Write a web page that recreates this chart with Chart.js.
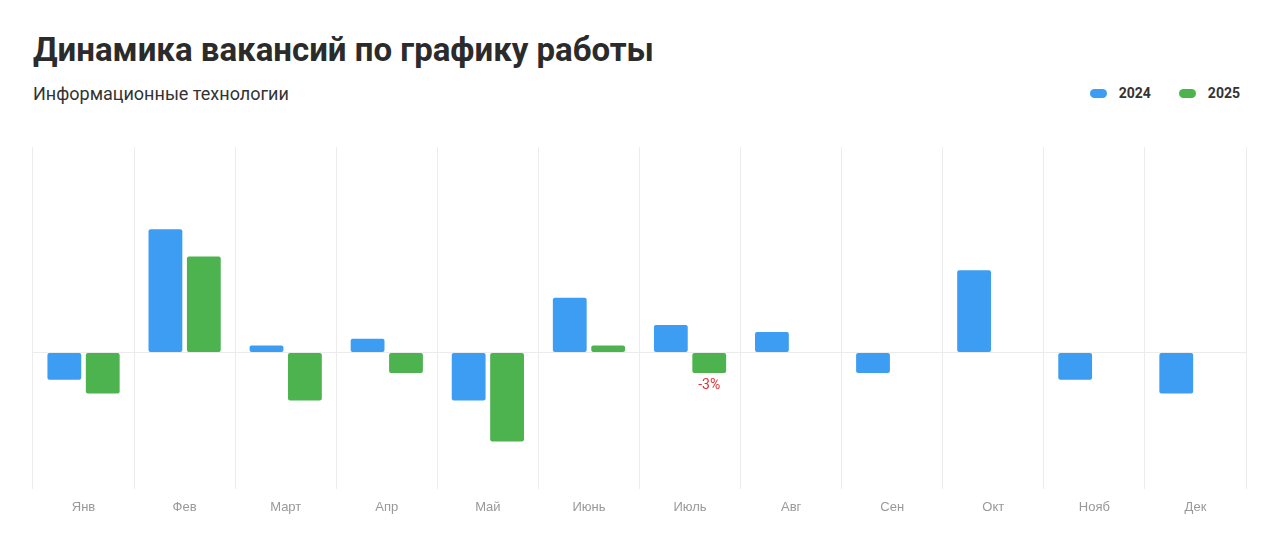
<!DOCTYPE html>
<html>
<head>
<meta charset="utf-8">
<script src="https://cdn.jsdelivr.net/npm/chart.js@4/dist/chart.umd.min.js"></script>
<style>
  body { margin: 0; background: #fff; font-family: Roboto, "Noto Sans", sans-serif; }
  .title { position: absolute; left: 33px; top: 30px; font-size: 33px; font-weight: 700; color: #2b2b2b; }
  .sub { position: absolute; left: 33px; top: 83px; font-size: 18px; color: #333; }
  .legend { position: absolute; right: 40px; top: 85px; display: flex; gap: 28px; font-size: 14px; font-weight: 700; color: #333; }
  .legend span { display: flex; align-items: center; }
  .legend i { display: inline-block; width: 17px; height: 9px; border-radius: 5px; margin-right: 12px; }
  .wrap { position: absolute; left: 23px; top: 140px; width: 1233px; height: 385px; }
</style>
</head>
<body>
<div class="title">Динамика вакансий по графику работы</div>
<div class="sub">Информационные технологии</div>
<div class="legend">
  <span><i style="background:#3d9df2"></i>2024</span>
  <span><i style="background:#4cb34e"></i>2025</span>
</div>
<div class="wrap"><canvas id="c"></canvas></div>
<script>
const months = ['Янв','Фев','Март','Апр','Май','Июнь','Июль','Авг','Сен','Окт','Нояб','Дек'];
const values2024 = [-4, 18, 1, 2, -7, 8, 4, 3, -3, 12, -4, -6];
const values2025 = [-6, 14, -7, -3, -13, 1, -3, null, null, null, null, null];
const labelled = { dataset: 1, index: 6, text: '-3%' };

const labelPlugin = {
  id: 'barLabel',
  afterDatasetsDraw(chart) {
    const bar = chart.getDatasetMeta(labelled.dataset).data[labelled.index];
    const ctx = chart.ctx;
    ctx.save();
    ctx.fillStyle = '#e03030';
    ctx.font = '14px Roboto, sans-serif';
    ctx.textAlign = 'center';
    ctx.textBaseline = 'top';
    ctx.fillText(labelled.text, bar.x, bar.y + 6);
    ctx.restore();
  }
};

new Chart(document.getElementById('c'), {
  type: 'bar',
  data: {
    labels: months,
    datasets: [
      { label: '2024', data: values2024, backgroundColor: '#3d9df2', borderRadius: 2, borderSkipped: false },
      { label: '2025', data: values2025, backgroundColor: '#4cb34e', borderRadius: 2, borderSkipped: false }
    ]
  },
  options: {
    responsive: true,
    maintainAspectRatio: false,
    animation: false,
    layout: { padding: { left: 10, right: 10, top: 7 } },
    plugins: { legend: { display: false }, tooltip: { enabled: false } },
    datasets: { bar: { categoryPercentage: 0.76, barPercentage: 0.88 } },
    scales: {
      x: {
        grid: { offset: true, color: '#ececec', drawTicks: false },
        border: { display: false },
        ticks: { color: '#999', font: { size: 13 }, padding: 10 }
      },
      y: {
        min: -20, max: 30,
        display: true,
        ticks: { display: false, stepSize: 10 },
        border: { display: false },
        grid: {
          drawTicks: false,
          color: ctx => ctx.tick && ctx.tick.value === 0 ? '#ececec' : 'rgba(0,0,0,0)'
        }
      }
    }
  },
  plugins: [labelPlugin]
});
</script>
</body>
</html>
